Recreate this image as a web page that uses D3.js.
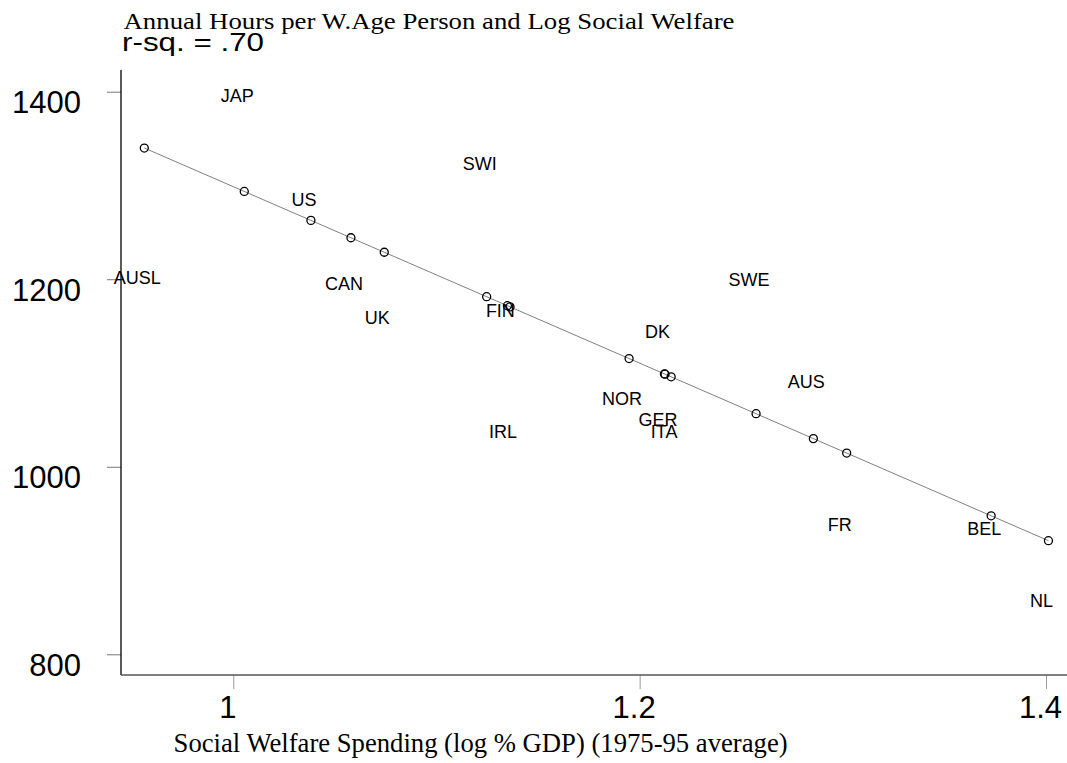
<!DOCTYPE html>
<html><head><meta charset="utf-8">
<script src="https://cdn.jsdelivr.net/npm/d3@7"></script>
<style>body{margin:0;background:#fff} svg{display:block}</style>
</head><body><svg id="chart" width="1067" height="763"></svg>
<script>
// Country observations: log social welfare spending vs annual hours per working-age person
const countries = ["AUSL","JAP","US","CAN","UK","SWI","FIN","IRL","NOR","DK","GER","ITA","SWE","AUS","FR","BEL","NL"];
const welfareLog = [0.9562,1.0054,1.0382,1.0579,1.0743,1.1247,1.1349,1.1362,1.1948,1.2122,1.2125,1.2155,1.2573,1.2855,1.3019,1.3730,1.4012];
const annualHours = [1212,1407,1296,1206,1170,1334,1177,1048,1084,1155,1061,1048,1210,1102,949,945,868];
const xTicks = [1, 1.2, 1.4];
const yTicks = [800, 1000, 1200, 1400];
// Fitted regression line: hours = intercept + slope * log welfare
const fitIntercept = 2239.7;
const fitSlope = -941.0;
const titleText = "Annual Hours per W.Age Person and Log Social Welfare";
const rsqText = "r-sq. = .70";
const xTitleText = "Social Welfare Spending (log % GDP) (1975-95 average)";

const svg = d3.select("#chart");
const sans = "Arial, 'Liberation Sans', sans-serif";
const serif = "'Times New Roman', 'Liberation Serif', serif";

const x = d3.scaleLinear().domain([1, 1.4]).range([233.3, 1046]);
const y = d3.scaleLinear().domain([800, 1400]).range([654.3, 91.7]);
const axisX = 121, axisY = 675;

const data = countries.map((c, i) => ({ name: c, x: welfareLog[i], y: annualHours[i], fit: fitIntercept + fitSlope * welfareLog[i] }));

// Y axis
const gy = svg.append("g").attr("transform", `translate(${axisX},0)`)
  .call(d3.axisLeft(y).tickValues(yTicks).tickSize(14).tickFormat(d3.format("d")));
gy.select(".domain").remove();
gy.selectAll(".tick line").attr("stroke", "#777").attr("stroke-width", 1);
gy.selectAll(".tick text").attr("x", -40).attr("y", 21).attr("dy", 0)
  .attr("text-anchor", "end").attr("fill", "#000")
  .style("font-family", sans).style("font-size", "31px");

// X axis
const gx = svg.append("g").attr("transform", `translate(0,${axisY})`)
  .call(d3.axisBottom(x).tickValues(xTicks).tickSize(14).tickFormat(d => String(d)));
gx.select(".domain").remove();
gx.selectAll(".tick line").attr("stroke", "#999").attr("stroke-width", 1);
gx.selectAll(".tick text").attr("x", -6).attr("y", 43).attr("dy", 0)
  .attr("fill", "#000").style("font-family", sans).style("font-size", "31px");

// Axis lines
svg.append("line").attr("x1", axisX).attr("x2", axisX).attr("y1", 70).attr("y2", axisY)
  .attr("stroke", "#000").attr("stroke-width", 1.3);
svg.append("line").attr("x1", axisX).attr("x2", 1067).attr("y1", axisY).attr("y2", axisY)
  .attr("stroke", "#555").attr("stroke-width", 1.5);

// Regression line through fitted values
const xExt = d3.extent(welfareLog);
svg.append("path")
  .datum(xExt.map(v => ({ x: v, fit: fitIntercept + fitSlope * v })))
  .attr("d", d3.line().x(d => x(d.x)).y(d => y(d.fit)))
  .attr("fill", "none").attr("stroke", "#808080").attr("stroke-width", 1);

// Fitted points
svg.append("g").selectAll("circle").data(data).join("circle")
  .attr("cx", d => x(d.x)).attr("cy", d => y(d.fit)).attr("r", 4)
  .attr("fill", "none").attr("stroke", "#000").attr("stroke-width", 1.3);

// Country labels at observed values
svg.append("g").selectAll("text").data(data).join("text")
  .attr("x", d => x(d.x) - 7).attr("y", d => y(d.y) + 16.5)
  .attr("text-anchor", "middle").attr("fill", "#000")
  .style("font-family", sans).style("font-size", "18px")
  .text(d => d.name);

// Titles
svg.append("text").attr("x", 123.5).attr("y", 28.5)
  .attr("textLength", 611).attr("lengthAdjust", "spacingAndGlyphs")
  .style("font-family", serif).style("font-size", "23px").text(titleText);
svg.append("text").attr("x", 122).attr("y", 50.5)
  .attr("textLength", 142).attr("lengthAdjust", "spacingAndGlyphs")
  .style("font-family", sans).style("font-size", "26px").text(rsqText);
svg.append("text").attr("x", 173.6).attr("y", 751.7)
  .attr("textLength", 614).attr("lengthAdjust", "spacingAndGlyphs")
  .style("font-family", serif).style("font-size", "27px").text(xTitleText);
</script>
</body></html>
